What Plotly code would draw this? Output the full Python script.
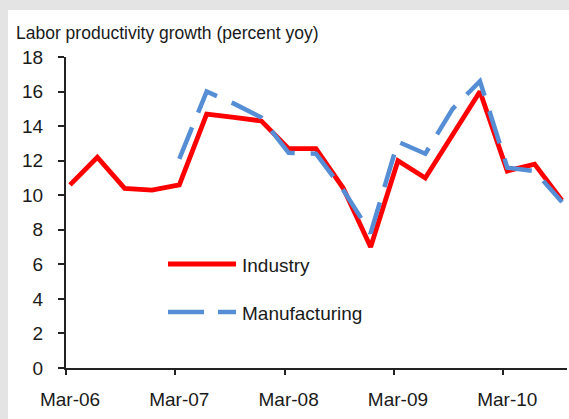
import plotly.graph_objects as go

# Quarterly labor productivity growth, percent year on year
quarters = ["Mar-06", "Jun-06", "Sep-06", "Dec-06",
            "Mar-07", "Jun-07", "Sep-07", "Dec-07",
            "Mar-08", "Jun-08", "Sep-08", "Dec-08",
            "Mar-09", "Jun-09", "Sep-09", "Dec-09",
            "Mar-10", "Jun-10", "Sep-10"]
industry = [10.6, 12.2, 10.4, 10.3,
            10.6, 14.7, 14.5, 14.3,
            12.7, 12.7, 10.4, 7.0,
            12.0, 11.0, 13.5, 16.0,
            11.4, 11.8, 9.7]
manufacturing = [None, None, None, None,
                 12.1, 16.0, 15.3, 14.5,
                 12.45, 12.4, 10.3, 7.8,
                 13.1, 12.4, 15.0, 16.6,
                 11.6, 11.4, 9.6]
tick_labels = ["Mar-06", "Mar-07", "Mar-08", "Mar-09", "Mar-10"]
y_ticks = [0, 2, 4, 6, 8, 10, 12, 14, 16, 18]

RED = "#ff0000"
BLUE = "#558ed5"
FONT = "Liberation Sans, Arial, sans-serif"
TEXT = "#1a1a1a"

W, H = 569, 419
L, R, T, B = 66, 2, 57, 51
PW, PH = W - L - R, H - T - B


def px_x(p):
    return (p - L) / PW


def px_y(p):
    return (H - B - p) / PH


idx = list(range(len(quarters)))
step = 27.33
x_lo = -4 / step
x_hi = x_lo + PW / step

fig = go.Figure()
fig.add_trace(go.Scatter(x=idx, y=industry, mode="lines", name="Industry",
                         line=dict(color=RED, width=4.8), showlegend=False))
fig.add_trace(go.Scatter(x=idx, y=manufacturing, mode="lines", name="Manufacturing",
                         line=dict(color=BLUE, width=4.5, dash="34px,16px"),
                         connectgaps=False, showlegend=False))

# quarter index of every March label; tick marks sit just left of the point
label_idx = [quarters.index(t) for t in tick_labels]
fig.update_xaxes(range=[x_lo, x_hi], tickvals=[i + x_lo for i in label_idx],
                 ticktext=tick_labels, ticks="outside", ticklen=5, tickwidth=1.5,
                 tickcolor="#222", ticklabelshift=4, ticklabelstandoff=8,
                 showline=True, linecolor="#222", linewidth=2,
                 showgrid=False, zeroline=False,
                 tickfont=dict(family=FONT, size=19, color=TEXT))
fig.update_yaxes(range=[0, 18], tickvals=y_ticks, ticks="outside", ticklen=6,
                 tickwidth=1.5, tickcolor="#222", ticklabelstandoff=11,
                 showline=True, linecolor="#222", linewidth=2,
                 showgrid=False, zeroline=False,
                 tickfont=dict(family=FONT, size=19, color=TEXT))

shapes = [
    # grey frame round the white chart panel
    dict(type="rect", xref="paper", yref="paper", x0=px_x(0), x1=px_x(W),
         y0=px_y(10), y1=px_y(0), fillcolor="#e4e4e4", line_width=0, layer="below"),
    dict(type="rect", xref="paper", yref="paper", x0=px_x(0), x1=px_x(8),
         y0=px_y(H), y1=px_y(0), fillcolor="#e4e4e4", line_width=0, layer="below"),
    # legend samples
    dict(type="line", xref="paper", yref="paper", x0=px_x(168), x1=px_x(236),
         y0=px_y(264), y1=px_y(264), line=dict(color=RED, width=4.8)),
    dict(type="line", xref="paper", yref="paper", x0=px_x(168), x1=px_x(236),
         y0=px_y(312), y1=px_y(312), line=dict(color=BLUE, width=4.5, dash="36px,14px")),
]

annotations = [
    dict(text="Labor productivity growth (percent yoy)", xref="paper", yref="paper",
         x=px_x(14), y=px_y(33), xanchor="left", yanchor="middle", showarrow=False,
         font=dict(family=FONT, size=17.5, color=TEXT)),
    dict(text="Industry", xref="paper", yref="paper", x=px_x(240), y=px_y(265),
         xanchor="left", yanchor="middle", showarrow=False,
         font=dict(family=FONT, size=19, color=TEXT)),
    dict(text="Manufacturing", xref="paper", yref="paper", x=px_x(240), y=px_y(313),
         xanchor="left", yanchor="middle", showarrow=False,
         font=dict(family=FONT, size=19, color=TEXT)),
]

fig.update_layout(width=W, height=H, margin=dict(l=L, r=R, t=T, b=B),
                  paper_bgcolor="white", plot_bgcolor="white",
                  shapes=shapes, annotations=annotations, showlegend=False)

fig.write_html("out.html")
